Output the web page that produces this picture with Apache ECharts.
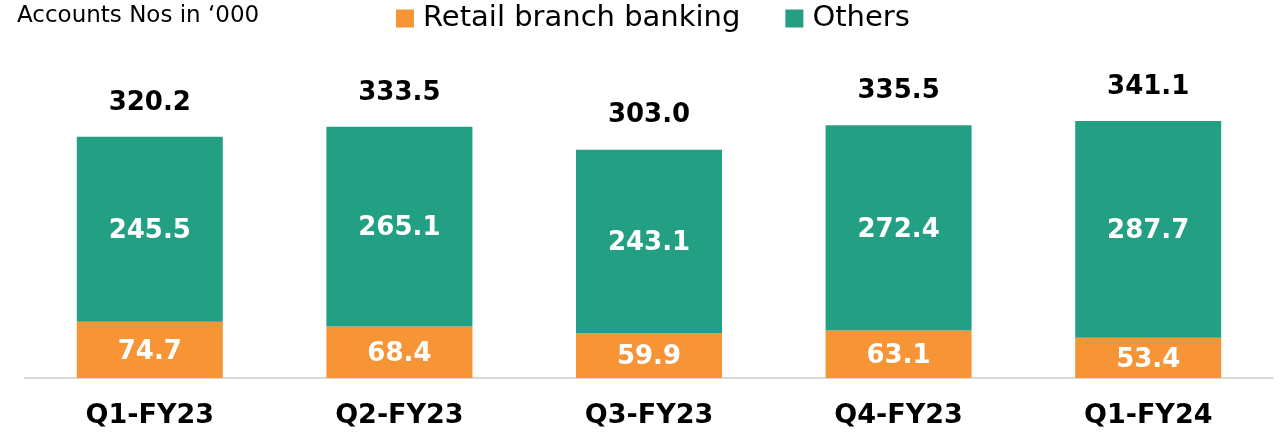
<!DOCTYPE html>
<html>
<head>
<meta charset="utf-8">
<script src="https://cdn.jsdelivr.net/npm/echarts@6/dist/echarts.min.js"></script>
<style>
  html, body { margin: 0; padding: 0; background: #ffffff; }
  #chart { width: 1281px; height: 439px; }
</style>
</head>
<body>
<div id="chart"></div>
<script>
// Accounts (in thousands) by quarter
const categories = ['Q1-FY23', 'Q2-FY23', 'Q3-FY23', 'Q4-FY23', 'Q1-FY24'];
const retailBranch = [74.7, 68.4, 59.9, 63.1, 53.4];
const others = [245.5, 265.1, 243.1, 272.4, 287.7];
const totals = [320.2, 333.5, 303.0, 335.5, 341.1];

const ORANGE = '#F79436';
const GREEN = '#23A084';
const FONT = '"DejaVu Sans", Verdana, sans-serif';

const chart = echarts.init(document.getElementById('chart'), null, { renderer: 'canvas' });

const insideLabel = {
  show: true,
  position: 'inside',
  offset: [0, 2],
  color: '#ffffff',
  fontFamily: FONT,
  fontWeight: 'bold',
  fontSize: 26,
  formatter: p => p.value.toFixed(1)
};

chart.setOption({
  animation: false,
  backgroundColor: '#ffffff',
  title: {
    text: 'Accounts Nos in \u2018000',
    left: 17,
    top: 5,
    padding: 0,
    textStyle: { fontFamily: FONT, fontWeight: 'normal', fontSize: 23, color: '#000000' }
  },
  legend: {
    data: ['Retail branch banking', 'Others'],
    left: 396,
    top: 4,
    padding: 0,
    icon: 'rect',
    itemWidth: 18,
    itemHeight: 18,
    itemGap: 45,
    textStyle: { fontFamily: FONT, fontSize: 29, color: '#000000', padding: [0, 0, 0, 4] }
  },
  grid: { left: 25, right: 8, top: 39, bottom: 61, containLabel: false },
  xAxis: {
    type: 'category',
    data: categories,
    axisLine: { show: true, lineStyle: { color: '#d9d9d9', width: 2 } },
    axisTick: { show: false },
    axisLabel: {
      margin: 24,
      color: '#000000',
      fontFamily: FONT,
      fontWeight: 'bold',
      fontSize: 27
    }
  },
  yAxis: {
    type: 'value',
    min: 0,
    max: 450,
    show: false,
    splitLine: { show: false }
  },
  series: [
    {
      name: 'Retail branch banking',
      type: 'bar',
      stack: 'accounts',
      barWidth: '58.5%',
      data: retailBranch,
      itemStyle: { color: ORANGE },
      label: insideLabel
    },
    {
      name: 'Others',
      type: 'bar',
      stack: 'accounts',
      barWidth: '58.5%',
      data: others,
      itemStyle: { color: GREEN },
      label: insideLabel
    },
    {
      name: 'Total',
      type: 'bar',
      barWidth: '58.5%',
      barGap: '-100%',
      data: totals,
      silent: true,
      itemStyle: { color: 'rgba(0,0,0,0)' },
      label: {
        show: true,
        position: 'top',
        distance: 21,
        color: '#000000',
        fontFamily: FONT,
        fontWeight: 'bold',
        fontSize: 26,
        formatter: p => p.value.toFixed(1)
      },
      z: 1
    }
  ]
});
</script>
</body>
</html>
